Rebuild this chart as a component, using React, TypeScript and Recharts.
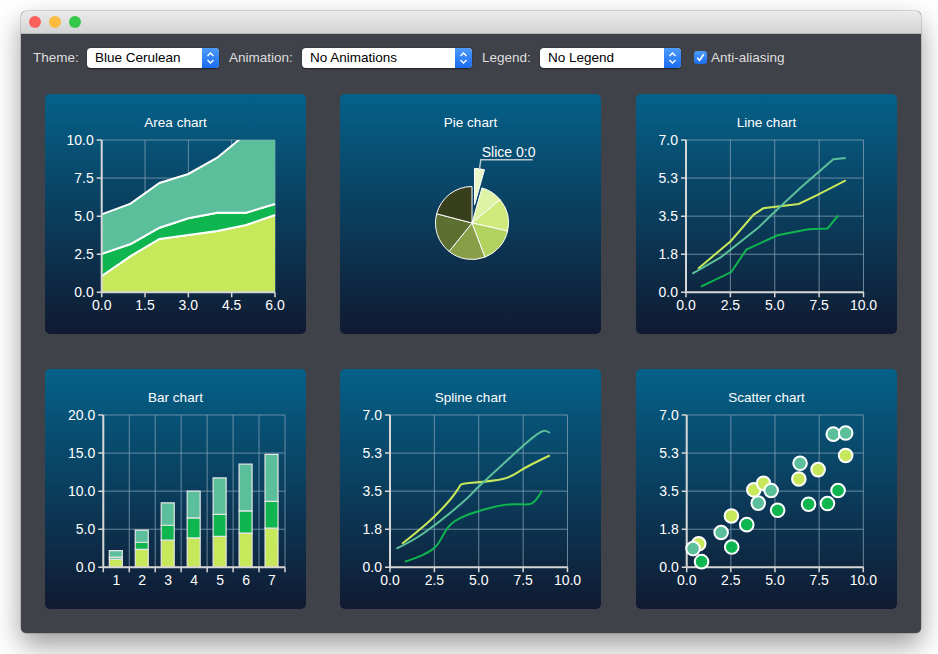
import React from 'react';
import {
  AreaChart, Area, LineChart, Line, BarChart, Bar, ScatterChart, Scatter,
  PieChart, Pie, Cell, XAxis, YAxis, CartesianGrid,
} from 'recharts';

const FONT = '"Liberation Sans", Arial, Helvetica, sans-serif';

// ---- shared data (three series, seven points each) ----
const series0X = [0.68, 2.53, 3.8, 4.35, 6.35, 7.44, 9.0];
const series0Y = [1.08, 2.36, 3.56, 3.86, 4.06, 4.49, 5.14];
const series1X = [0.84, 2.55, 3.4, 5.15, 6.9, 7.97, 8.57];
const series1Y = [0.26, 0.93, 1.96, 2.62, 2.9, 2.93, 3.53];
const series2X = [0.36, 1.95, 4.05, 4.78, 6.42, 8.3, 9.0];
const series2Y = [0.86, 1.6, 2.95, 3.53, 4.78, 6.12, 6.17];

// ---- area chart boundaries ----
const areaX = [0, 1, 2, 3, 4, 5, 6];
const areaLower = [1.07, 2.38, 3.5, 3.76, 4.03, 4.42, 5.08];
const areaMiddle = [2.52, 3.17, 4.24, 4.86, 5.23, 5.23, 5.8];
const areaUpper = [5.12, 5.82, 7.18, 7.77, 8.84, 10.4, 10.5];

// ---- bar chart ----
const barCategories = ['1', '2', '3', '4', '5', '6', '7'];

// ---- pie chart ----
const pieNames = ['Slice 0:0', 'Slice 0:1', 'Slice 0:2', 'Slice 0:3', 'Slice 0:4', 'Slice 0:5', 'Slice 0:6'];
const pieValues = series0Y;
const pieColors = ['#ebf6c8', '#dff2a6', '#cfe97a', '#b2d260', '#8a9d47', '#5e6f32', '#383f1d'];

// ---- ticks ----
const areaXTicks = [0, 1.5, 3, 4.5, 6];
const areaYTicks = [0, 2.5, 5, 7.5, 10];
const xyXTicks = [0, 2.5, 5, 7.5, 10];
const xyYTicks = [0, 1.75, 3.5, 5.25, 7];
const barYTicks = [0, 5, 10, 15, 20];

const COLORS = ['#c7e85b', '#0fb54f', '#5cbf9b'];

const toPoints = (xs: number[], ys: number[]) => xs.map((x, i) => ({ x, y: ys[i] }));
const line0 = toPoints(series0X, series0Y);
const line1 = toPoints(series1X, series1Y);
const line2 = toPoints(series2X, series2Y);

const areaData = areaX.map((x, i) => ({ x, lower: areaLower[i], middle: areaMiddle[i], upper: areaUpper[i] }));
const barData = barCategories.map((c, i) => ({ cat: c, s0: series0Y[i], s1: series1Y[i], s2: series2Y[i] }));
const pieData = pieNames.map((name, i) => ({ name, value: pieValues[i] }));

const fmt1 = (v: number) => Number(v).toFixed(1);
const tickStyle = { fill: '#ffffff', fontSize: 14, fontFamily: FONT };
const axisLineStyle = { stroke: '#d6d6d6', strokeWidth: 2 };
const tickLineStyle = { stroke: '#d6d6d6', strokeWidth: 1.5 };
const GRID = '#7f9db0';

const W = 261;
const H = 240;

function Panel({ x, y, title, children }: { x: number; y: number; title: string; children: React.ReactNode }) {
  return (
    <div style={{ position: 'absolute', left: x, top: y, width: W, height: H, borderRadius: 5, overflow: 'hidden',
      background: 'linear-gradient(#056189, #101a31)' }}>
      <div style={{ position: 'absolute', left: 0, top: 20.5, width: W, height: 16, lineHeight: '16px', textAlign: 'center',
        color: '#ffffff', fontSize: 13.5, fontFamily: FONT }}>{title}</div>
      <div style={{ position: 'absolute', left: 0, top: 0 }}>{children}</div>
    </div>
  );
}

const BarTick = (props: any) => {
  const { x, y, payload, index } = props;
  const half = payload && payload.offset ? payload.offset : 13;
  const axisY = y - 8;
  return (
    <g>
      <line x1={x - half} y1={axisY} x2={x - half} y2={axisY + 5} stroke="#d6d6d6" strokeWidth={1.5} />
      {index === barCategories.length - 1 && (
        <line x1={x + half} y1={axisY} x2={x + half} y2={axisY + 5} stroke="#d6d6d6" strokeWidth={1.5} />
      )}
      <text x={x} y={y} dy="0.71em" textAnchor="middle" fill="#ffffff" fontSize={14} fontFamily={FONT}>{payload.value}</text>
    </g>
  );
};

const explodedLabel = (props: any) => {
  const { cx, cy, midAngle, outerRadius, index } = props;
  if (index !== 0) return null;
  const rad = Math.PI / 180;
  const c = Math.cos(-midAngle * rad);
  const s = Math.sin(-midAngle * rad);
  const x0 = cx + outerRadius * c;
  const y0 = cy + outerRadius * s;
  const x1 = x0 + 9 * c;
  const y1 = y0 + 9 * s;
  return (
    <g>
      <polyline points={`${x0},${y0} ${x1},${y1} ${x1 + 52},${y1}`} fill="none" stroke="#b8c6cf" strokeWidth={1.5} />
      <text x={x1 + 1} y={y1 - 3} fill="#ffffff" fontSize={14} fontFamily={FONT}>{pieNames[0]}</text>
    </g>
  );
};

function AreaPanel() {
  return (
    <AreaChart width={W} height={H} data={areaData} margin={{ top: 46, right: 31, bottom: 0, left: 0 }}>
      <CartesianGrid stroke={GRID} strokeOpacity={0.8} />
      <XAxis dataKey="x" type="number" domain={[0, 6]} ticks={areaXTicks} interval={0} tickFormatter={fmt1}
        height={41.7} tick={tickStyle} axisLine={axisLineStyle} tickLine={tickLineStyle} tickSize={5} tickMargin={3} />
      <YAxis type="number" domain={[0, 10]} ticks={areaYTicks} interval={0} tickFormatter={fmt1} allowDataOverflow
        width={56.7} tick={tickStyle} axisLine={axisLineStyle} tickLine={tickLineStyle} tickSize={5} tickMargin={3} />
      <Area dataKey="lower" type="linear" fill={COLORS[0]} fillOpacity={1} stroke="#ffffff" strokeWidth={2} isAnimationActive={false} />
      <Area dataKey={(d: any) => [d.lower, d.middle]} type="linear" fill={COLORS[1]} fillOpacity={1} stroke="#ffffff" strokeWidth={2} isAnimationActive={false} />
      <Area dataKey={(d: any) => [d.middle, d.upper]} type="linear" fill={COLORS[2]} fillOpacity={1} stroke="#ffffff" strokeWidth={2} isAnimationActive={false} />
    </AreaChart>
  );
}

function PiePanel() {
  const cx = 132;
  const cy = 129;
  const R = 36.5;
  const total = pieValues.reduce((a, b) => a + b, 0);
  const halfAngle = (pieValues[0] / total) * 180 * (Math.PI / 180);
  const dist = 0.5 * R;
  const cx2 = cx + dist * Math.sin(halfAngle);
  const cy2 = cy - dist * Math.cos(halfAngle);
  return (
    <PieChart width={W} height={H} margin={{ top: 0, right: 0, bottom: 0, left: 0 }}>
      <Pie data={pieData} dataKey="value" nameKey="name" cx={cx} cy={cy} outerRadius={R} startAngle={90} endAngle={-270}
        stroke="#ffffff" strokeWidth={1} isAnimationActive={false} labelLine={false}>
        {pieData.map((d, i) => (
          <Cell key={d.name} fill={i === 0 ? 'none' : pieColors[i]} stroke={i === 0 ? 'none' : '#ffffff'} />
        ))}
      </Pie>
      <Pie data={pieData} dataKey="value" nameKey="name" cx={cx2} cy={cy2} outerRadius={R} startAngle={90} endAngle={-270}
        isAnimationActive={false} labelLine={false} label={explodedLabel}>
        {pieData.map((d, i) => (
          <Cell key={d.name} fill={i === 0 ? pieColors[0] : 'none'} stroke={i === 0 ? '#ffffff' : 'none'} strokeWidth={1} />
        ))}
      </Pie>
    </PieChart>
  );
}

function LinePanel({ spline }: { spline: boolean }) {
  const t = spline ? 'natural' : 'linear';
  return (
    <LineChart width={W} height={H} margin={{ top: 46, right: 33.5, bottom: 0, left: 0 }}>
      <CartesianGrid stroke={GRID} strokeOpacity={0.8} />
      <XAxis dataKey="x" type="number" domain={[0, 10]} ticks={xyXTicks} interval={0} tickFormatter={fmt1}
        height={41.7} tick={tickStyle} axisLine={axisLineStyle} tickLine={tickLineStyle} tickSize={5} tickMargin={3} />
      <YAxis type="number" domain={[0, 7]} ticks={xyYTicks} interval={0} tickFormatter={fmt1}
        width={50} tick={tickStyle} axisLine={axisLineStyle} tickLine={tickLineStyle} tickSize={5} tickMargin={3} />
      <Line data={line0} dataKey="y" type={t as any} stroke={COLORS[0]} strokeWidth={2} dot={false} isAnimationActive={false} />
      <Line data={line1} dataKey="y" type={t as any} stroke={COLORS[1]} strokeWidth={2} dot={false} isAnimationActive={false} />
      <Line data={line2} dataKey="y" type={t as any} stroke={COLORS[2]} strokeWidth={2} dot={false} isAnimationActive={false} />
    </LineChart>
  );
}

function BarPanel() {
  return (
    <BarChart width={W} height={H} data={barData} margin={{ top: 46, right: 21, bottom: 0, left: 0 }} barSize={13}>
      <CartesianGrid stroke={GRID} strokeOpacity={0.8}
        verticalCoordinatesGenerator={({ offset }: any) =>
          barCategories.concat(['end']).map((_, i) => offset.left + (i * offset.width) / barCategories.length)} />
      <XAxis dataKey="cat" type="category" height={41.7} tick={<BarTick />} interval={0}
        axisLine={axisLineStyle} tickLine={false} tickSize={5} tickMargin={3} />
      <YAxis type="number" domain={[0, 20]} ticks={barYTicks} interval={0} tickFormatter={fmt1}
        width={58.3} tick={tickStyle} axisLine={axisLineStyle} tickLine={tickLineStyle} tickSize={5} tickMargin={3} />
      <Bar dataKey="s0" stackId="a" fill={COLORS[0]} stroke="#e6e6e6" strokeWidth={1.2} isAnimationActive={false} />
      <Bar dataKey="s1" stackId="a" fill={COLORS[1]} stroke="#e6e6e6" strokeWidth={1.2} isAnimationActive={false} />
      <Bar dataKey="s2" stackId="a" fill={COLORS[2]} stroke="#e6e6e6" strokeWidth={1.2} isAnimationActive={false} />
    </BarChart>
  );
}

const makeDot = (color: string) => (props: any) => (
  <circle cx={props.cx} cy={props.cy} r={6.8} fill={color} stroke="#ffffff" strokeWidth={2} />
);

function ScatterPanel() {
  return (
    <ScatterChart width={W} height={H} margin={{ top: 46, right: 33.7, bottom: 0, left: 0 }}>
      <CartesianGrid stroke={GRID} strokeOpacity={0.8} />
      <XAxis dataKey="x" type="number" domain={[0, 10]} ticks={xyXTicks} interval={0} tickFormatter={fmt1}
        height={41.7} tick={tickStyle} axisLine={axisLineStyle} tickLine={tickLineStyle} tickSize={5} tickMargin={3} />
      <YAxis dataKey="y" type="number" domain={[0, 7]} ticks={xyYTicks} interval={0} tickFormatter={fmt1}
        width={50.7} tick={tickStyle} axisLine={axisLineStyle} tickLine={tickLineStyle} tickSize={5} tickMargin={3} />
      <Scatter data={line0} fill={COLORS[0]} shape={makeDot(COLORS[0])} isAnimationActive={false} />
      <Scatter data={line1} fill={COLORS[1]} shape={makeDot(COLORS[1])} isAnimationActive={false} />
      <Scatter data={line2} fill={COLORS[2]} shape={makeDot(COLORS[2])} isAnimationActive={false} />
    </ScatterChart>
  );
}

const Chevrons = () => (
  <svg width={17} height={20} style={{ position: 'absolute', left: 0, top: 0 }}>
    <polyline points="5.5,8 8.5,5 11.5,8" fill="none" stroke="#ffffff" strokeWidth={1.4} />
    <polyline points="5.5,12 8.5,15 11.5,12" fill="none" stroke="#ffffff" strokeWidth={1.4} />
  </svg>
);

function Combo({ x, w, text }: { x: number; w: number; text: string }) {
  return (
    <div style={{ position: 'absolute', left: x, top: 48, width: w, height: 20, borderRadius: 4, background: '#ffffff',
      boxShadow: '0 0.5px 1.5px rgba(0,0,0,0.5)' }}>
      <div style={{ position: 'absolute', left: 8, top: 0, height: 20, lineHeight: '20px', fontSize: 13.5, color: '#000000', fontFamily: FONT }}>{text}</div>
      <div style={{ position: 'absolute', right: 0, top: 0, width: 17, height: 20, borderRadius: '0 4px 4px 0',
        background: 'linear-gradient(#4d9bf9, #1a6cf2)' }}>
        <Chevrons />
      </div>
    </div>
  );
}

function Label({ x, text }: { x: number; text: string }) {
  return (
    <div style={{ position: 'absolute', left: x, top: 48, height: 20, lineHeight: '20px', fontSize: 13.5, color: '#dedede',
      fontFamily: FONT, whiteSpace: 'nowrap' }}>{text}</div>
  );
}

export default function App() {
  return (
    <div style={{ position: 'fixed', left: 0, top: 0, width: 938, height: 654, background: '#ffffff', overflow: 'hidden', fontFamily: FONT }}>
      <div style={{ position: 'absolute', left: 21, top: 11, width: 900, height: 622, borderRadius: 5, overflow: 'hidden',
        background: '#404249', boxShadow: '0 12px 28px rgba(0,0,0,0.4), 0 0 0 0.5px rgba(0,0,0,0.25)' }}>
        <div style={{ position: 'absolute', left: 0, top: 0, width: 900, height: 22, background: 'linear-gradient(#ebebeb, #d4d4d4)',
          borderBottom: '1px solid #b4b4b4' }}>
          <div style={{ position: 'absolute', left: 8, top: 5, width: 12, height: 12, borderRadius: 6, background: '#fc605c' }} />
          <div style={{ position: 'absolute', left: 28, top: 5, width: 12, height: 12, borderRadius: 6, background: '#fdbc40' }} />
          <div style={{ position: 'absolute', left: 48, top: 5, width: 12, height: 12, borderRadius: 6, background: '#34c84a' }} />
        </div>
      </div>

      <Label x={33} text="Theme:" />
      <Combo x={87} w={132} text="Blue Cerulean" />
      <Label x={229} text="Animation:" />
      <Combo x={302} w={170} text="No Animations" />
      <Label x={482} text="Legend:" />
      <Combo x={540} w={141} text="No Legend" />
      <div style={{ position: 'absolute', left: 694, top: 51, width: 13, height: 13, borderRadius: 3,
        background: 'linear-gradient(#4d9bf9, #1a6cf2)' }}>
        <svg width={13} height={13} style={{ position: 'absolute', left: 0, top: 0 }}>
          <polyline points="3.2,6.8 5.5,9.5 9.8,3.2" fill="none" stroke="#ffffff" strokeWidth={1.6} />
        </svg>
      </div>
      <Label x={711} text="Anti-aliasing" />

      <Panel x={45} y={94} title="Area chart"><AreaPanel /></Panel>
      <Panel x={340} y={94} title="Pie chart"><PiePanel /></Panel>
      <Panel x={636} y={94} title="Line chart"><LinePanel spline={false} /></Panel>
      <Panel x={45} y={369} title="Bar chart"><BarPanel /></Panel>
      <Panel x={340} y={369} title="Spline chart"><LinePanel spline={true} /></Panel>
      <Panel x={636} y={369} title="Scatter chart"><ScatterPanel /></Panel>
    </div>
  );
}
